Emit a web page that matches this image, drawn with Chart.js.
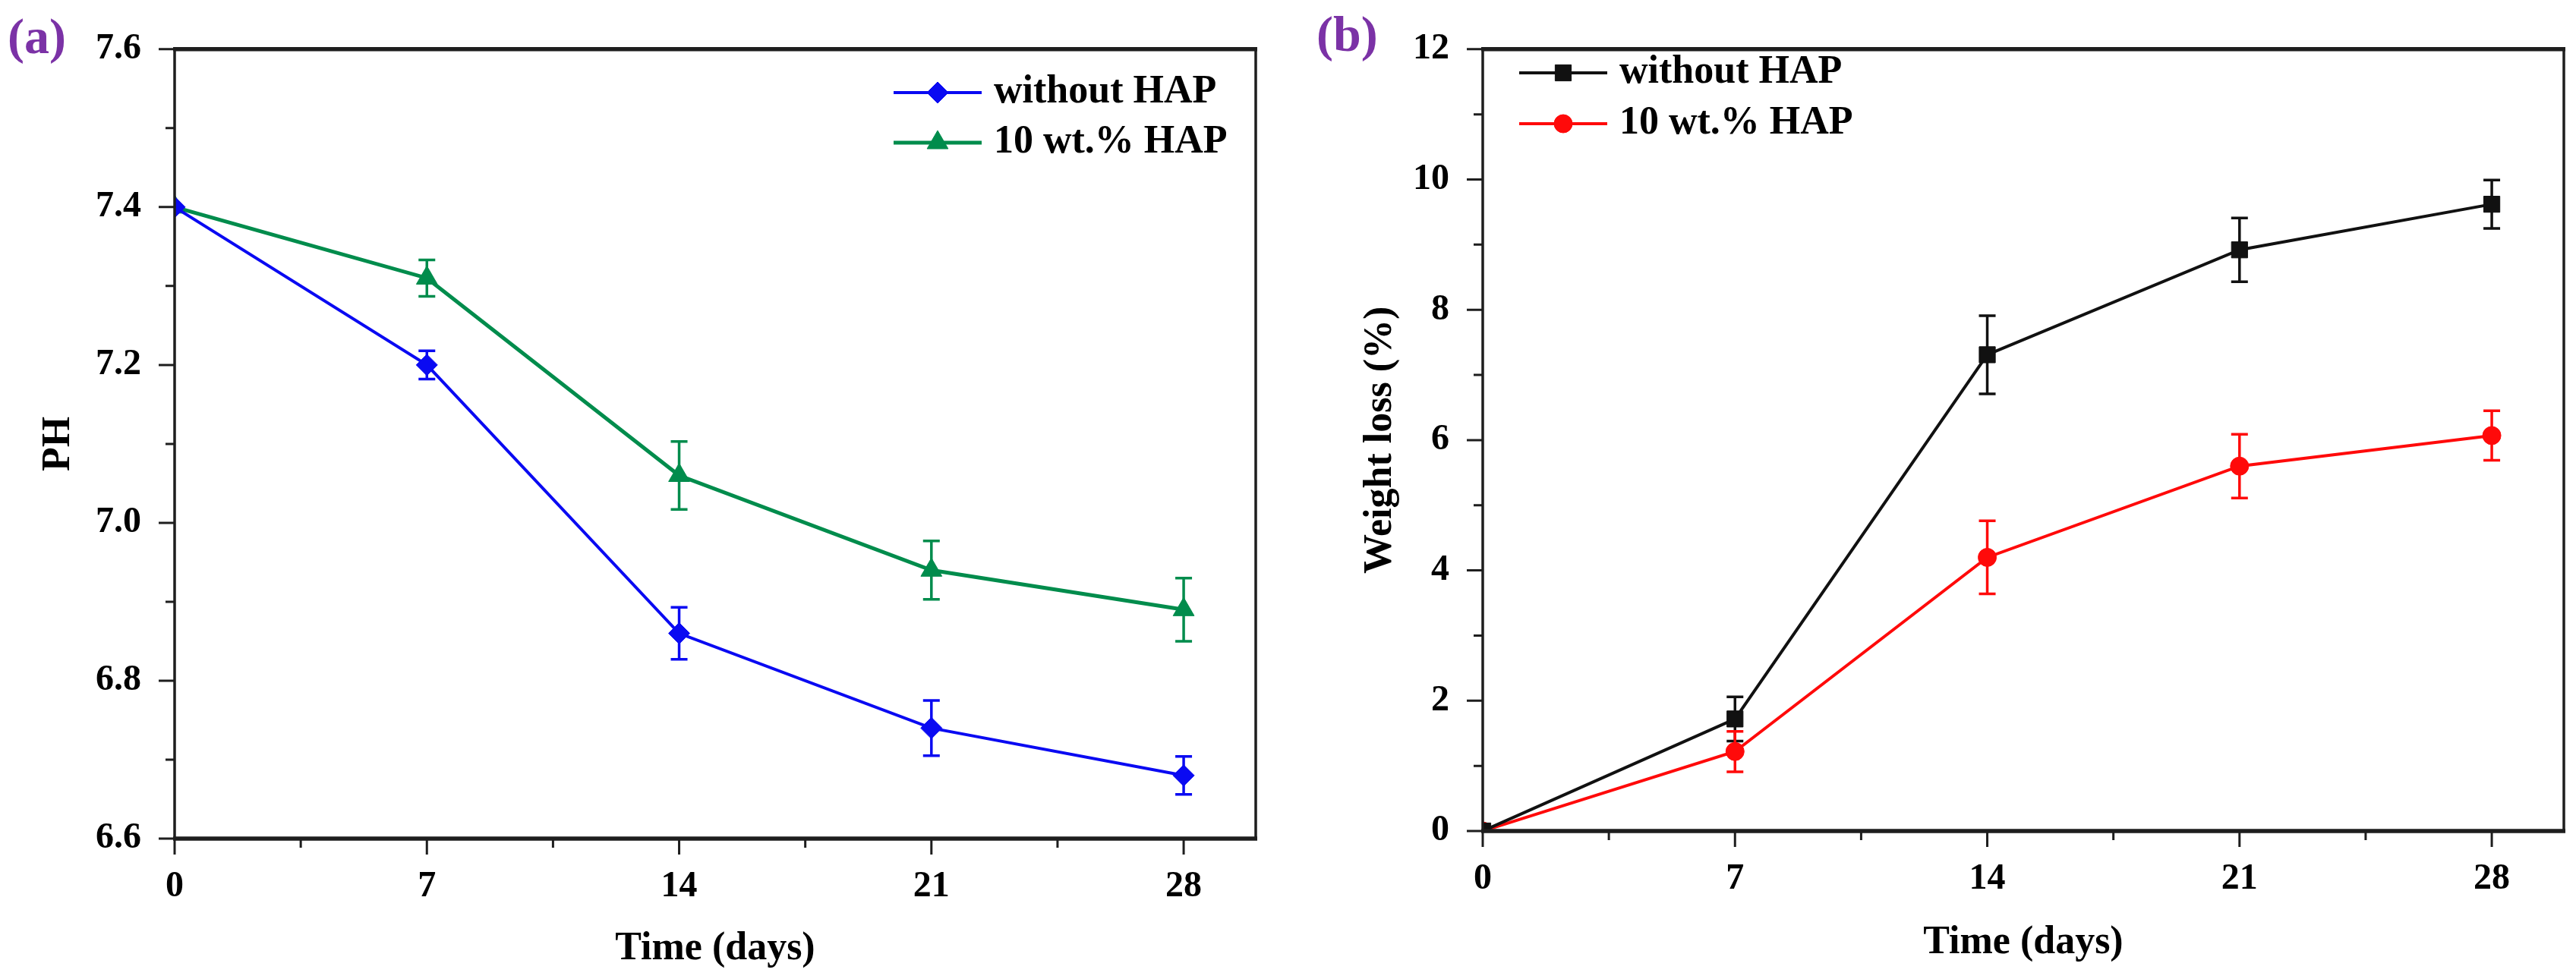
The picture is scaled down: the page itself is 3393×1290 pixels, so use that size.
<!DOCTYPE html>
<html>
<head>
<meta charset="utf-8">
<script src="https://cdn.jsdelivr.net/npm/chart.js@4.4.1/dist/chart.umd.min.js"></script>
<style>
  body { margin: 0; background: #fff; }
  .panel { position: absolute; top: 0; height: 1290px; }
  #pa { left: 0; width: 1696px; }
  #pb { left: 1696px; width: 1697px; }
</style>
</head>
<body>
<div class="panel" id="pa"><canvas id="ph-canv"></canvas></div>
<div class="panel" id="pb"><canvas id="wl-canv"></canvas></div>
<script>
// sampling days and axis ticks
const days = [0, 7, 14, 21, 28];
const xTicks = [0, 7, 14, 21, 28];
const xMinor = [3.5, 10.5, 17.5, 24.5];
const phTicks = [6.6, 6.8, 7.0, 7.2, 7.4, 7.6];
const phMinor = [6.7, 6.9, 7.1, 7.3, 7.5];
const wlTicks = [0, 2, 4, 6, 8, 10, 12];
const wlMinor = [1, 3, 5, 7, 9, 11];

// (a) pH
const phWithout = [7.40, 7.20, 6.86, 6.74, 6.68];
const phWithoutErr = [0, 0.018, 0.033, 0.035, 0.024];
const phHap = [7.40, 7.31, 7.06, 6.94, 6.89];
const phHapErr = [0, 0.023, 0.043, 0.037, 0.040];

// (b) weight loss (%)
const wlWithout = [0, 1.72, 7.31, 8.92, 9.62];
const wlWithoutErr = [0, 0.34, 0.60, 0.49, 0.37];
const wlHap = [0, 1.22, 4.20, 5.60, 6.07];
const wlHapErr = [0, 0.31, 0.56, 0.49, 0.38];

const serif = '"Liberation Serif", "Times New Roman", serif';
Chart.defaults.font.family = serif;
Chart.defaults.color = '#000';

const toPoints = (vals) => days.map((d, i) => ({ x: d, y: vals[i] }));

// origin-like frame, minor ticks, error bars, legend with line + marker
const originStyle = {
    id: 'originStyle',
    beforeDatasetsDraw(chart) {
        const ctx = chart.ctx, xs = chart.scales.x, ys = chart.scales.y;
        chart.data.datasets.forEach(ds => {
            ctx.save();
            ctx.strokeStyle = ds.borderColor;
            ctx.lineWidth = 3.5;
            ds.data.forEach((p, i) => {
                const e = ds.errors[i];
                if (!e) return;
                const x = xs.getPixelForValue(p.x);
                const y1 = ys.getPixelForValue(p.y + e);
                const y2 = ys.getPixelForValue(p.y - e);
                ctx.beginPath();
                ctx.moveTo(x, y1); ctx.lineTo(x, y2);
                ctx.moveTo(x - 11, y1); ctx.lineTo(x + 11, y1);
                ctx.moveTo(x - 11, y2); ctx.lineTo(x + 11, y2);
                ctx.stroke();
            });
            ctx.restore();
        });
    },
    afterDraw(chart, args, opts) {
        const ctx = chart.ctx, a = chart.chartArea;
        const xs = chart.scales.x, ys = chart.scales.y;
        ctx.save();
        ctx.strokeStyle = '#1e1e1e';
        // ticks
        ctx.lineWidth = 3;
        ctx.beginPath();
        xs.ticks.forEach(t => {
            const x = xs.getPixelForValue(t.value);
            ctx.moveTo(x, a.bottom); ctx.lineTo(x, a.bottom + 21);
        });
        opts.xMinor.forEach(v => {
            const x = xs.getPixelForValue(v);
            ctx.moveTo(x, a.bottom); ctx.lineTo(x, a.bottom + 12);
        });
        ys.ticks.forEach(t => {
            const y = ys.getPixelForValue(t.value);
            ctx.moveTo(a.left, y); ctx.lineTo(a.left - 21, y);
        });
        opts.yMinor.forEach(v => {
            const y = ys.getPixelForValue(v);
            ctx.moveTo(a.left, y); ctx.lineTo(a.left - 12, y);
        });
        ctx.stroke();
        // frame
        ctx.lineWidth = 3.5;
        ctx.beginPath();
        ctx.moveTo(a.left, a.top); ctx.lineTo(a.left, a.bottom);
        ctx.moveTo(a.right, a.top); ctx.lineTo(a.right, a.bottom);
        ctx.stroke();
        ctx.lineWidth = 5.5;
        ctx.beginPath();
        ctx.moveTo(a.left - 2, a.top); ctx.lineTo(a.right + 2, a.top);
        ctx.moveTo(a.left - 2, a.bottom); ctx.lineTo(a.right + 2, a.bottom);
        ctx.stroke();

        // legend
        ctx.font = 'bold 52px ' + serif;
        ctx.textAlign = 'left';
        ctx.textBaseline = 'middle';
        chart.data.datasets.forEach((ds, i) => {
            const y = opts.legendY + i * opts.legendGap;
            ctx.strokeStyle = ds.borderColor;
            ctx.fillStyle = ds.borderColor;
            ctx.lineWidth = ds.borderWidth;
            ctx.beginPath();
            ctx.moveTo(opts.legendX, y); ctx.lineTo(opts.legendX + 116, y);
            ctx.stroke();
            ctx.lineWidth = 1;
            Chart.helpers.drawPoint(ctx, {
                pointStyle: ds.pointStyle, radius: ds.pointRadius, rotation: 0, borderWidth: 1
            }, opts.legendX + 58, y);
            ctx.fillStyle = '#000';
            ctx.fillText(ds.label, opts.legendX + 132, y);
        });

        // panel tag
        ctx.font = 'bold 66px ' + serif;
        ctx.fillStyle = '#7b32a6';
        ctx.fillText(opts.tag, opts.tagX, opts.tagY);
        ctx.restore();
    }
};

const lineSet = (label, vals, errs, color, style, radius, width) => ({
    label: label,
    data: toPoints(vals),
    errors: errs,
    borderColor: color,
    backgroundColor: color,
    pointBackgroundColor: color,
    pointBorderColor: color,
    pointStyle: style,
    pointRadius: radius,
    pointBorderWidth: 1,
    borderWidth: width,
    clip: 0,
    tension: 0
});

const axisX = (titlePad) => ({
    type: 'linear',
    min: 0,
    max: 30,
    afterBuildTicks: s => { s.ticks = xTicks.map(v => ({ value: v })); },
    afterFit: s => { s.height = titlePad.h; },
    grid: { display: false },
    border: { display: false },
    ticks: { font: { size: 48, weight: 'bold' }, padding: 27, color: '#000' },
    title: {
        display: true,
        text: 'Time (days)',
        font: { size: 52, weight: 'bold' },
        color: '#000',
        padding: { top: 0, bottom: titlePad.b }
    }
});

const axisY = (min, max, tickVals, fmt, width, title, titlePad) => ({
    type: 'linear',
    min: min,
    max: max,
    afterBuildTicks: s => { s.ticks = tickVals.map(v => ({ value: v })); },
    afterFit: s => { s.width = width; },
    grid: { display: false },
    border: { display: false },
    ticks: { font: { size: 48, weight: 'bold' }, padding: 36, color: '#000', callback: fmt },
    title: {
        display: true,
        text: title,
        font: { size: 52, weight: 'bold' },
        color: '#000',
        padding: { top: titlePad, bottom: 0 }
    }
});

const phChart = new Chart(document.getElementById('ph-canv'), {
    type: 'line',
    data: {
        datasets: [
            lineSet('without HAP', phWithout, phWithoutErr, '#0a0af2', 'rectRot', 14, 4),
            lineSet('10 wt.% HAP', phHap, phHapErr, '#008c4c', 'triangle', 16, 5)
        ]
    },
    options: {
        animation: false,
        responsive: true,
        maintainAspectRatio: false,
        layout: { padding: { top: 43, right: 42, left: 0, bottom: 0 } },
        scales: {
            x: axisX({ h: 185, b: 8 }),
            y: axisY(6.6, 7.6, phTicks, v => v.toFixed(1), 230, 'PH', 46)
        },
        plugins: {
            legend: { display: false },
            tooltip: { enabled: false },
            originStyle: {
                xMinor: xMinor, yMinor: phMinor,
                legendX: 1177, legendY: 122, legendGap: 66,
                tag: '(a)', tagX: 10, tagY: 53
            }
        }
    },
    plugins: [originStyle]
});

const wlChart = new Chart(document.getElementById('wl-canv'), {
    type: 'line',
    data: {
        datasets: [
            lineSet('without HAP', wlWithout, wlWithoutErr, '#111111', 'rect', 15, 4),
            lineSet('10 wt.% HAP', wlHap, wlHapErr, '#ff0a0a', 'circle', 12, 4)
        ]
    },
    options: {
        animation: false,
        responsive: true,
        maintainAspectRatio: false,
        layout: { padding: { top: 35, right: 14, left: 0, bottom: 0 } },
        scales: {
            x: axisX({ h: 195, b: 16 }),
            y: axisY(0, 12, wlTicks, v => String(v), 257, 'Weight loss (%)', 91)
        },
        plugins: {
            legend: { display: false },
            tooltip: { enabled: false },
            originStyle: {
                xMinor: xMinor, yMinor: wlMinor,
                legendX: 305, legendY: 96, legendGap: 67,
                tag: '(b)', tagX: 38, tagY: 50
            }
        }
    },
    plugins: [originStyle]
});
</script>
</body>
</html>
